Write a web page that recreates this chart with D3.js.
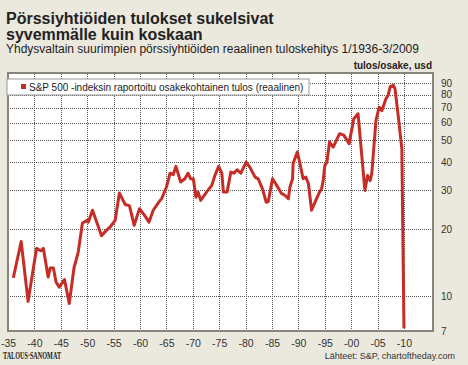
<!DOCTYPE html>
<html>
<head>
<meta charset="utf-8">
<script src="https://cdn.jsdelivr.net/npm/d3@7"></script>
<style>
  body { margin: 0; background: #ebe8de; }
  svg { display: block; font-family: "Liberation Sans", Arial, sans-serif; }
  .grid line { stroke: #555; stroke-dasharray: 1,1; shape-rendering: crispEdges; }
  .grid .domain { display: none; }
  .tick text { fill: #333; }
</style>
</head>
<body>
<svg width="468" height="365"></svg>
<script>
const svg = d3.select('svg');

const years = [1936.0, 1937.5, 1938.8, 1940.4, 1941.2, 1941.7, 1942.6, 1943.0, 1943.6, 1944.1,
  1944.7, 1945.7, 1946.6, 1947.5, 1948.3, 1949.1, 1950.0, 1950.2, 1951.0, 1951.9,
  1952.7, 1953.6, 1954.3, 1955.3, 1956.1, 1957.2, 1958.0, 1958.9, 1959.9, 1960.9,
  1961.7, 1962.5, 1963.7, 1964.1, 1965.0, 1965.7, 1966.3, 1966.8, 1967.7, 1968.5,
  1969.1, 1969.6, 1970.1, 1970.6, 1971.0, 1971.5, 1972.6, 1973.6, 1974.2, 1974.9,
  1975.5, 1975.8, 1976.5, 1977.2, 1977.8, 1978.4, 1979.1, 1980.1, 1980.8, 1981.8,
  1982.4, 1983.2, 1983.9, 1984.3, 1985.1, 1985.9, 1986.8, 1987.5, 1988.1, 1988.4,
  1988.9, 1989.0, 1989.8, 1990.3, 1990.9, 1991.4, 1991.9, 1992.5, 1993.3, 1994.0,
  1994.4, 1994.7, 1995.0, 1995.4, 1995.9, 1996.6, 1997.8, 1998.6, 1999.6, 2000.5,
  2001.3, 2002.6, 2003.1, 2003.6, 2003.9, 2004.7, 2005.3, 2005.8, 2006.6, 2007.0,
  2007.4, 2008.0, 2008.3, 2008.9, 2009.6, 2010.0];
const eps = [12.1, 17.6, 9.5, 16.4, 16.0, 16.4, 12.2, 13.4, 13.4, 11.6,
  11.0, 11.9, 9.3, 13.4, 15.8, 21.3, 21.9, 21.5, 24.3, 21.2,
  18.7, 19.7, 20.4, 21.9, 29.0, 25.8, 25.5, 20.8, 24.7, 23.0,
  21.5, 24.3, 26.7, 27.4, 30.8, 35.6, 35.1, 38.2, 32.5, 33.6,
  35.6, 33.6, 33.6, 27.8, 29.3, 26.9, 29.3, 31.4, 34.8, 38.2,
  35.6, 29.3, 29.3, 36.0, 35.6, 36.9, 35.6, 39.9, 37.9, 34.2,
  33.6, 30.3, 26.4, 26.6, 33.6, 31.4, 28.9, 28.3, 27.4, 30.8,
  33.6, 39.3, 44.3, 39.3, 33.6, 34.2, 32.0, 24.3, 26.9, 29.3,
  30.3, 33.0, 38.5, 39.9, 49.1, 46.6, 53.5, 52.7, 48.3, 62.4,
  65.7, 29.8, 34.8, 33.0, 35.4, 61.4, 70.3, 67.8, 76.8, 79.4,
  87.0, 88.0, 85.0, 64.6, 45.8, 7.2];

const xTicks = d3.range(1935, 2011, 5);
const yTicks = [7, 10, 20, 30, 40, 50, 60, 70, 80, 90];
const gridY = [10, 20, 30, 40, 50, 60, 70, 80, 90];

const data = years.map((y, i) => ({ year: y, value: eps[i] }));

// plot box
const plot = { left: 8, right: 433, top: 73, bottom: 331 };

const x = d3.scaleLinear().domain([1935, 2015.5]).range([plot.left, plot.right]);
const y = d3.scaleLog().domain([7, 100]).range([plot.bottom, plot.top]);

// titles
svg.append('text').attr('x', 6).attr('y', 24)
  .attr('font-size', 16).attr('font-weight', 'bold').attr('fill', '#222')
  .text('Pörssiyhtiöiden tulokset sukelsivat');
svg.append('text').attr('x', 6).attr('y', 40)
  .attr('font-size', 16).attr('font-weight', 'bold').attr('fill', '#222')
  .text('syvemmälle kuin koskaan');
svg.append('text').attr('x', 6).attr('y', 53)
  .attr('font-size', 12).attr('fill', '#222')
  .text('Yhdysvaltain suurimpien pörssiyhtiöiden reaalinen tuloskehitys 1/1936-3/2009');
svg.append('text').attr('x', 432).attr('y', 69)
  .attr('text-anchor', 'end').attr('font-size', 10).attr('font-weight', 'bold').attr('fill', '#222')
  .text('tulos/osake, usd');

// plot background
svg.append('rect')
  .attr('x', plot.left).attr('y', plot.top)
  .attr('width', plot.right - plot.left).attr('height', plot.bottom - plot.top)
  .attr('fill', '#fff');

// grid
svg.append('g').attr('class', 'grid')
  .attr('transform', `translate(0,${plot.bottom})`)
  .call(d3.axisBottom(x).tickValues(xTicks.slice(1)).tickSize(-(plot.bottom - plot.top)).tickFormat(''));
svg.append('g').attr('class', 'grid')
  .attr('transform', `translate(${plot.left},0)`)
  .call(d3.axisLeft(y).tickValues(gridY).tickSize(-(plot.right - plot.left)).tickFormat(''));

// the line
svg.append('path')
  .datum(data)
  .attr('fill', 'none')
  .attr('stroke', '#c62d26')
  .attr('stroke-width', 3)
  .attr('stroke-linejoin', 'round')
  .attr('d', d3.line().x(d => x(d.year)).y(d => y(d.value)));

// border
svg.append('rect')
  .attr('x', plot.left).attr('y', plot.top)
  .attr('width', plot.right - plot.left).attr('height', plot.bottom - plot.top)
  .attr('fill', 'none').attr('stroke', '#85857d').attr('stroke-width', 2);

// axes labels
const yAxis = svg.append('g')
  .attr('transform', `translate(${plot.right},0)`)
  .call(d3.axisRight(y).tickValues(yTicks).tickSize(0).tickPadding(8).tickFormat(d3.format('d')));
yAxis.select('.domain').remove();
yAxis.selectAll('text').attr('font-size', 10).attr('font-family', null);

const xAxis = svg.append('g')
  .attr('transform', `translate(0,${plot.bottom})`)
  .call(d3.axisBottom(x).tickValues(xTicks).tickSize(0).tickPadding(9)
    .tickFormat(d => '-' + String(d % 100).padStart(2, '0')));
xAxis.select('.domain').remove();
xAxis.selectAll('text').attr('font-size', 10.5).attr('font-family', null);

// legend
const lg = svg.append('g');
lg.append('rect').attr('x', 7).attr('y', 79).attr('width', 302).attr('height', 16)
  .attr('fill', '#fff').attr('stroke', '#999');
lg.append('rect').attr('x', 21).attr('y', 84).attr('width', 5).attr('height', 5).attr('fill', '#c62d26');
lg.append('text').attr('x', 29).attr('y', 91).attr('font-size', 10).attr('fill', '#222')
  .text('S&P 500 -indeksin raportoitu osakekohtainen tulos (reaalinen)');

// footer
svg.append('text').attr('x', 3).attr('y', 359)
  .attr('font-size', 10).attr('font-weight', 'bold').attr('font-family', 'Liberation Serif')
  .attr('fill', '#222').attr('textLength', 58).attr('lengthAdjust', 'spacingAndGlyphs')
  .text('TALOUS·SANOMAT');
svg.append('text').attr('x', 455).attr('y', 359)
  .attr('text-anchor', 'end').attr('font-size', 9).attr('fill', '#333')
  .text('Lähteet: S&P, chartoftheday.com');
</script>
</body>
</html>
